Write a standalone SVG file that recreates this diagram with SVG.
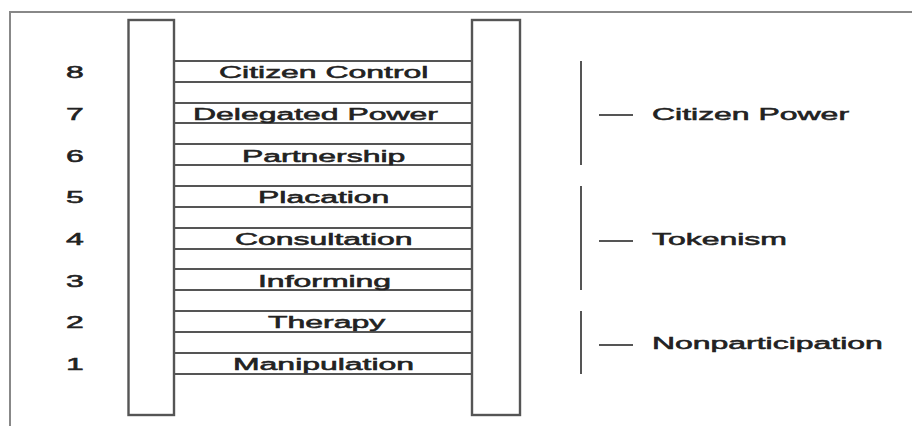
<svg xmlns="http://www.w3.org/2000/svg" width="912" height="426" viewBox="0 0 912 426">
<style>
.ln{stroke:#555;stroke-width:2;fill:none}
.rail{stroke:#555;stroke-width:2.4;fill:#fff}
.fr{stroke:#888;stroke-width:2;fill:none}
.t{font-family:"Liberation Sans",Arial,sans-serif;font-size:17px;fill:#222;stroke:#222;stroke-width:0.55}
</style>
<rect width="912" height="426" fill="#fff"/>
<g id="frame"><path class="fr" d="M10 426 V12 H912"/></g>
<g id="rails">
<rect class="rail" x="128.5" y="20" width="45.5" height="395"/>
<rect class="rail" x="472" y="20" width="48" height="395"/>
</g>
<g id="rungs">
<g id="rung8"><path class="ln" d="M174 61H472M174 82H472"/><text class="t" transform="translate(219 78) scale(1.88 1)">Citizen Control</text></g>
<g id="rung7"><path class="ln" d="M174 103H472M174 123H472"/><text class="t" transform="translate(193 120) scale(1.88 1)">Delegated Power</text></g>
<g id="rung6"><path class="ln" d="M174 144H472M174 165H472"/><text class="t" transform="translate(242 161.5) scale(1.88 1)">Partnership</text></g>
<g id="rung5"><path class="ln" d="M174 186H472M174 207H472"/><text class="t" transform="translate(258 203) scale(1.88 1)">Placation</text></g>
<g id="rung4"><path class="ln" d="M174 228H472M174 249H472"/><text class="t" transform="translate(235 245) scale(1.88 1)">Consultation</text></g>
<g id="rung3"><path class="ln" d="M174 269H472M174 290H472"/><text class="t" transform="translate(258 286.5) scale(1.88 1)">Informing</text></g>
<g id="rung2"><path class="ln" d="M174 311H472M174 332H472"/><text class="t" transform="translate(268 328) scale(1.88 1)">Therapy</text></g>
<g id="rung1"><path class="ln" d="M174 353H472M174 374H472"/><text class="t" transform="translate(233 370) scale(1.88 1)">Manipulation</text></g>
</g>
<g id="numbers">
<text class="t" transform="translate(66 78) scale(1.88 1)">8</text>
<text class="t" transform="translate(66 120) scale(1.88 1)">7</text>
<text class="t" transform="translate(66 161.5) scale(1.88 1)">6</text>
<text class="t" transform="translate(66 203) scale(1.88 1)">5</text>
<text class="t" transform="translate(66 245) scale(1.88 1)">4</text>
<text class="t" transform="translate(66 286.5) scale(1.88 1)">3</text>
<text class="t" transform="translate(66 328) scale(1.88 1)">2</text>
<text class="t" transform="translate(66 370) scale(1.88 1)">1</text>
</g>
<g id="connectors">
<path class="ln" d="M581 61V165M599 115H633"/>
<path class="ln" d="M581 186V290M599 241H633"/>
<path class="ln" d="M581 311V374M599 345H633"/>
</g>
<g id="group-citizen-power"><text class="t" transform="translate(652 120) scale(1.88 1)">Citizen Power</text></g>
<g id="group-tokenism"><text class="t" transform="translate(652 245) scale(1.88 1)">Tokenism</text></g>
<g id="group-nonparticipation"><text class="t" transform="translate(652 349) scale(1.88 1)">Nonparticipation</text></g>
</svg>
